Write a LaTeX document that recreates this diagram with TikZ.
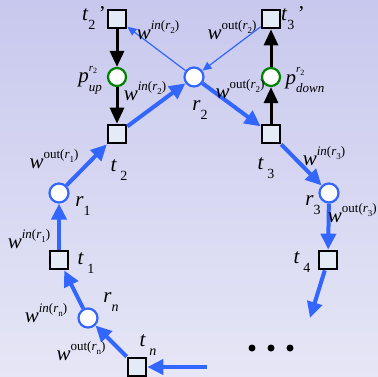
\documentclass[tikz,border=0pt]{standalone}
\usepackage{fontspec}
\setmainfont{Liberation Serif}
\usetikzlibrary{arrows.meta}
\definecolor{myblue}{RGB}{51,102,255}
\definecolor{mygreen}{RGB}{0,128,0}
\definecolor{sqfill}{RGB}{228,234,246}
\definecolor{bgtop}{RGB}{200,200,238}
\definecolor{bgbot}{RGB}{230,230,246}
\newcommand\wlab[2]{\textit{w}\raisebox{0.5em}{\fontsize{13}{13}\selectfont #1(\textit{r}\raisebox{-0.3em}{\fontsize{9}{9}\selectfont #2})}}
\newcommand\tlab[1]{\textit{t}\,\raisebox{-0.4em}{\fontsize{14}{14}\selectfont #1}}
\newcommand\rlab[1]{\textit{r}\raisebox{-0.4em}{\fontsize{14}{14}\selectfont #1}}
\newcommand\plab[1]{\textit{p}\makebox[0pt][l]{\raisebox{0.55em}{\fontsize{11}{11}\selectfont\textit{r}\raisebox{-0.25em}{\fontsize{8}{8}\selectfont 2}}}\raisebox{-0.4em}{\fontsize{13}{13}\selectfont\textit{#1}}}
\begin{document}
\begin{tikzpicture}[x=1pt,y=-1pt,
  trans/.style={rectangle,draw=black,line width=2.2pt,fill=sqfill,minimum size=18.5pt,inner sep=0pt},
  res/.style={circle,draw=myblue,line width=2.2pt,fill=white,minimum size=19pt,inner sep=0pt},
  pl/.style={circle,draw=mygreen,line width=2.2pt,fill=white,minimum size=18pt,inner sep=0pt},
  barrow/.style={draw=myblue,line width=4pt,-{Triangle[length=16pt,width=15pt]}},
  tarrow/.style={draw=myblue,line width=1.2pt,-{Triangle[length=9pt,width=8pt]}},
  karrow/.style={draw=black,line width=3pt,-{Triangle[length=16pt,width=14pt]}},
  lab/.style={inner sep=0pt,font=\fontsize{21}{21}\selectfont},
  wl/.style={inner sep=0pt,font=\fontsize{21}{21}\selectfont},
  dot/.style={circle,fill=black,minimum size=7pt,inner sep=0pt}]
\useasboundingbox (0,0) rectangle (378,376);
\shade[top color=bgtop,bottom color=bgbot] (0,0) rectangle (378,376);
% nodes
\node[trans] (t2p) at (117,19) {};
\node[trans] (t3p) at (271,19) {};
\node[pl] (pup) at (117,77) {};
\node[res] (r2) at (194,77) {};
\node[pl] (pdown) at (271,77) {};
\node[trans] (t2) at (117,134) {};
\node[trans] (t3) at (271,134) {};
\node[res] (r1) at (59,193) {};
\node[trans] (t1) at (59,260) {};
\node[res] (rn) at (88,318) {};
\node[trans] (tn) at (137,367) {};
\node[res] (r3) at (329,193) {};
\node[trans] (t4) at (328,260) {};
\coordinate (e4) at (310,318);
\coordinate (inn) at (207,367);
\node[dot] (d1) at (252,348) {};
\node[dot] (d2) at (271,348) {};
\node[dot] (d3) at (290,348) {};
% connectors
\draw[karrow] (t2p) -- (pup);
\draw[karrow] (pup) -- (t2);
\draw[karrow] (t3) -- (pdown);
\draw[karrow] (pdown) -- (t3p);
\draw[tarrow] (r2) -- (t2p);
\draw[tarrow] (t3p) -- (r2);
\draw[barrow] (t2) -- (r2);
\draw[barrow] (r2) -- (t3);
\draw[barrow] (t3) -- (r3);
\draw[barrow] (r3) -- (t4);
\draw[barrow] (t4) -- (e4);
\draw[barrow] (inn) -- (tn);
\draw[barrow] (tn) -- (rn);
\draw[barrow] (rn) -- (t1);
\draw[barrow] (t1) -- (r1);
\draw[barrow] (r1) -- (t2);
% labels
\node[lab,anchor=east] (lt2p) at (106,18) {\textit{t}\raisebox{-0.4em}{\fontsize{14}{14}\selectfont 2}\,'};
\node[lab,anchor=west] (lt3p) at (281,18) {\textit{t}\raisebox{-0.4em}{\fontsize{14}{14}\selectfont 3}\,'};
\node[wl] (lw1) at (158,30) {\wlab{\textit{in}}{2}};
\node[wl] (lw2) at (232,30) {\wlab{out}{2}};
\node[lab] (lpup) at (90,80) {\plab{up}};
\node[lab] (lpdown) at (305,80) {\plab{down}};
\node[wl] (lw3) at (145,91) {\wlab{\textit{in}}{2}};
\node[wl] (lw4) at (240,89) {\wlab{out}{2}};
\node[lab] (lr2) at (200,110) {\rlab{2}};
\node[lab] (lt2) at (119,170) {\tlab{2}};
\node[lab] (lt3) at (266,168) {\tlab{3}};
\node[wl] (lw5) at (54,159) {\wlab{out}{1}};
\node[lab] (lr1) at (83,206) {\rlab{1}};
\node[wl] (lw6) at (29,239) {\wlab{\textit{in}}{1}};
\node[lab] (lt1) at (86,263) {\tlab{1}};
\node[lab] (lrn) at (111,302) {\rlab{\textit{n}}};
\node[wl] (lw7) at (46,313) {\wlab{\textit{in}}{n}};
\node[wl] (lw8) at (81,351) {\wlab{out}{n}};
\node[lab] (ltn) at (148,345) {\tlab{\textit{n}}};
\node[wl] (lw9) at (324,156) {\wlab{\textit{in}}{3}};
\node[lab] (lr3) at (313,205) {\rlab{3}};
\node[wl,anchor=east] (lw10) at (377,213) {\wlab{out}{3}};
\node[lab] (lt4) at (302,262) {\tlab{4}};
\end{tikzpicture}
\end{document}
